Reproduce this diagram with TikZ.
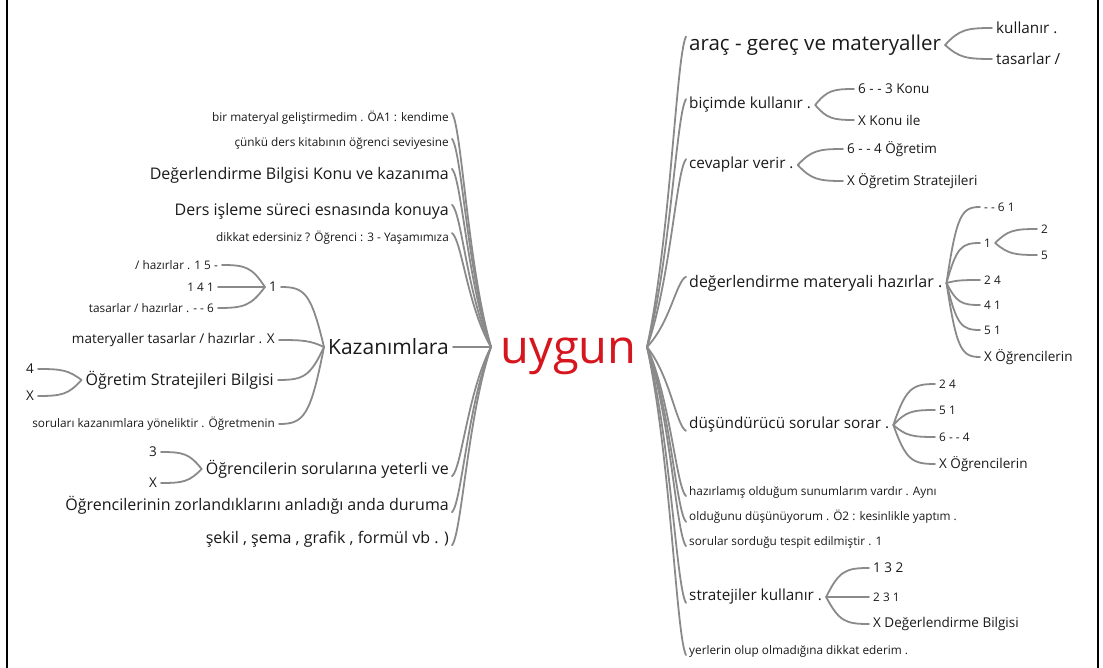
\documentclass[tikz,border=0pt]{standalone}
\usepackage{fontspec}
\setmainfont{Open Sans}
\usetikzlibrary{calc}
\definecolor{cg}{RGB}{138,138,138}
\definecolor{ured}{RGB}{214,22,30}
\definecolor{tx}{RGB}{25,25,25}
\tikzset{
 every node/.style={inner sep=1pt, text=tx},
 fs/.style={font=\fontsize{11.8}{13}\selectfont},
 fc/.style={font=\fontsize{13.5}{15}\selectfont},
 fm/.style={font=\fontsize{15.3}{17}\selectfont},
 fl/.style={font=\fontsize{16}{18}\selectfont},
 fxl/.style={font=\fontsize{20.5}{23}\selectfont},
 fk/.style={font=\fontsize{21}{24}\selectfont},
 fu/.style={font=\fontsize{47}{50}\selectfont, text=ured},
 lt/.style={anchor=east}, rt/.style={anchor=west},
 con/.style={draw=cg, line width=1.8pt, line cap=round},
 mainc/.style={to path={let \p1=(\tikztostart), \p2=(\tikztotarget) in .. controls ({\x1+0.6*(\x2-\x1)},{\y1+0.35*(\y2-\y1)}) and ({\x2-0.25*(\x2-\x1)},{\y2-0.06*(\y2-\y1)}) .. (\tikztotarget)}},
 brc/.style={to path={let \p1=(\tikztostart), \p2=(\tikztotarget) in .. controls ({\x1+0.3*(\x2-\x1)},{\y1+0.9*(\y2-\y1)}) and ({\x2-0.55*(\x2-\x1)},{\y2}) .. (\tikztotarget)}},
}
\begin{document}
\begin{tikzpicture}[x=1pt,y=-1pt]
\useasboundingbox (0,0) rectangle (1103,668);
\draw[line width=1.5pt] (7,0) -- (7,668);
\draw[line width=1.5pt] (1098,0) -- (1098,668);

% centre
\node[fu, anchor=base] (uy) at (568.5,363) {uygun};
\coordinate (hl) at (491,347);
\coordinate (hr) at (647,347);

% left
\node[fs,lt] (l1) at (450,118) {bir materyal geliştirmedim . ÖA1 : kendime};
\node[fs,lt] (l2) at (450,143) {çünkü ders kitabının öğrenci seviyesine};
\node[fl,lt] (l3) at (450,175) {Değerlendirme Bilgisi Konu ve kazanıma};
\node[fl,lt] (l4) at (450,211) {Ders işleme süreci esnasında konuya};
\node[fs,lt] (l5) at (450,238) {dikkat edersiniz ? Öğrenci : 3 - Yaşamımıza};
\node[fk,lt] (kaz) at (450,347) {Kazanımlara};
\node[fl,lt] (l7) at (450,469) {Öğrencilerin sorularına yeterli ve};
\node[fl,lt] (l8) at (450,505) {Öğrencilerinin zorlandıklarını anladığı anda duruma};
\node[fl,lt] (l9) at (450,539) {şekil , şema , grafik , formül vb . )};

\node[fc,lt] (k1) at (278,287) {1};
\node[fs,lt] (k1a) at (219,265) {/ hazırlar . 1 5 -};
\node[fs,lt] (k1b) at (215,287) {1 4 1};
\node[fs,lt] (k1c) at (215,308) {tasarlar / hazırlar . - - 6};
\node[fc,lt] (k2) at (276,340) {materyaller tasarlar / hazırlar . X};
\node[fl,lt] (k3) at (275,380) {Öğretim Stratejileri Bilgisi};
\node[fc,lt] (k3a) at (35,369) {4};
\node[fc,lt] (k3b) at (35,396) {X};
\node[fs,lt] (k4) at (276,424) {soruları kazanımlara yöneliktir . Öğretmenin};
\node[fc,lt] (l7a) at (158,452) {3};
\node[fc,lt] (l7b) at (158,483) {X};

% right
\node[fxl,rt] (r1) at (688,45) {araç - gereç ve materyaller};
\node[fm,rt] (r1a) at (995,28) {kullanır .};
\node[fm,rt] (r1b) at (995,59) {tasarlar /};
\node[fm,rt] (r2) at (688,105) {biçimde kullanır .};
\node[fc,rt] (r2a) at (857,89) {6 - - 3 Konu};
\node[fc,rt] (r2b) at (857,120) {X Konu ile};
\node[fm,rt] (r3) at (688,165) {cevaplar verir .};
\node[fc,rt] (r3a) at (846,149) {6 - - 4 Öğretim};
\node[fc,rt] (r3b) at (846,181) {X Öğretim Stratejileri};
\node[fl,rt] (r4) at (688,283) {değerlendirme materyali hazırlar .};
\node[fs,rt] (r4a) at (983,207) {- - 6 1};
\node[fs,rt] (r4b) at (983,243) {1};
\node[fs,rt] (r4b1) at (1040,229) {2};
\node[fs,rt] (r4b2) at (1040,255) {5};
\node[fs,rt] (r4c) at (983,280) {2 4};
\node[fs,rt] (r4d) at (983,305) {4 1};
\node[fs,rt] (r4e) at (983,330) {5 1};
\node[fc,rt] (r4f) at (983,357) {X Öğrencilerin};
\node[fm,rt] (r5) at (688,425) {düşündürücü sorular sorar .};
\node[fs,rt] (r5a) at (938,384) {2 4};
\node[fs,rt] (r5b) at (938,410) {5 1};
\node[fs,rt] (r5c) at (938,437) {6 - - 4};
\node[fc,rt] (r5d) at (938,464) {X Öğrencilerin};
\node[fs,rt] (r6) at (688,492) {hazırlamış olduğum sunumlarım vardır . Aynı};
\node[fs,rt] (r7) at (688,517) {olduğunu düşünüyorum . Ö2 : kesinlikle yaptım .};
\node[fs,rt] (r8) at (688,542) {sorular sorduğu tespit edilmiştir . 1};
\node[fm,rt] (r9) at (688,597) {stratejiler kullanır .};
\node[fc,rt] (r9a) at (872,568) {1 3 2};
\node[fs,rt] (r9b) at (872,597) {2 3 1};
\node[fc,rt] (r9c) at (872,624) {X Değerlendirme Bilgisi};
\node[fs,rt] (r10) at (688,651) {yerlerin olup olmadığına dikkat ederim .};

% main connectors
\foreach \nm in {l1,l2,l3,l4,l5}
  \draw[con] (hl) to[mainc] ([shift={(2,3)}]\nm.north east);
\draw[con] (hl) -- ([xshift=3pt]kaz.east);
\foreach \nm in {l7,l8,l9}
  \draw[con] (hl) to[mainc] ([shift={(2,-3)}]\nm.south east);
\foreach \nm in {r1,r2,r3,r4}
  \draw[con] (hr) to[mainc] ([shift={(-2,3)}]\nm.north west);
\foreach \nm in {r5,r6,r7,r8,r9,r10}
  \draw[con] (hr) to[mainc] ([shift={(-2,-3)}]\nm.south west);

% left sub-branches
\foreach \nm in {k1,k2,k3,k4}
  \draw[con] ([xshift=-3pt]kaz.west) to[brc] ([xshift=3pt]\nm.east);
\foreach \nm in {k1a,k1b,k1c}
  \draw[con] ([xshift=-3pt]k1.west) to[brc] ([xshift=3pt]\nm.east);
\foreach \nm in {k3a,k3b}
  \draw[con] ([xshift=-3pt]k3.west) to[brc] ([xshift=3pt]\nm.east);
\foreach \nm in {l7a,l7b}
  \draw[con] ([xshift=-3pt]l7.west) to[brc] ([xshift=3pt]\nm.east);

% right sub-branches
\foreach \nm in {r1a,r1b}
  \draw[con] ([xshift=3pt]r1.east) to[brc] ([xshift=-3pt]\nm.west);
\foreach \nm in {r2a,r2b}
  \draw[con] ([xshift=3pt]r2.east) to[brc] ([xshift=-3pt]\nm.west);
\foreach \nm in {r3a,r3b}
  \draw[con] ([xshift=3pt]r3.east) to[brc] ([xshift=-3pt]\nm.west);
\foreach \nm in {r4a,r4b,r4c,r4d,r4e,r4f}
  \draw[con] ([xshift=3pt]r4.east) to[brc] ([xshift=-3pt]\nm.west);
\foreach \nm in {r4b1,r4b2}
  \draw[con] ([xshift=3pt]r4b.east) to[brc] ([xshift=-3pt]\nm.west);
\foreach \nm in {r5a,r5b,r5c,r5d}
  \draw[con] ([xshift=3pt]r5.east) to[brc] ([xshift=-3pt]\nm.west);
\foreach \nm in {r9a,r9b,r9c}
  \draw[con] ([xshift=3pt]r9.east) to[brc] ([xshift=-3pt]\nm.west);
\end{tikzpicture}
\end{document}
